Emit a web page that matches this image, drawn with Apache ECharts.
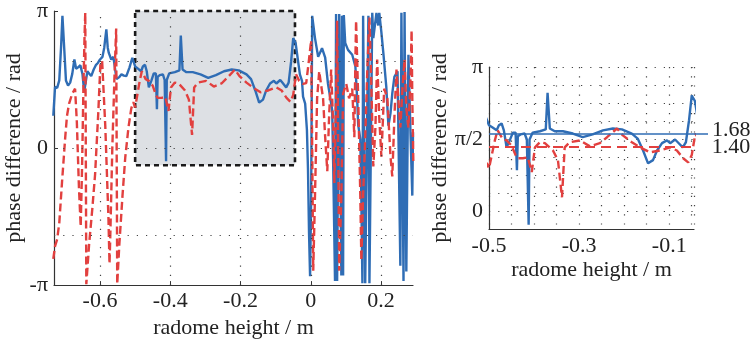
<!DOCTYPE html>
<html><head><meta charset="utf-8">
<script src="https://cdn.jsdelivr.net/npm/echarts@6/dist/echarts.min.js"></script>
<style>html,body{margin:0;padding:0;background:#fff}#c{width:754px;height:344px}</style>
</head><body><div id="c"></div>
<script>
const PI = Math.PI;
// blue (solid) phase difference trace: [radome height m, phase rad]
const blueTrace = [
[-0.733,0.74],[-0.728,1.40],[-0.722,1.38],[-0.716,1.55],[-0.711,2.30],[-0.707,3.03],[-0.702,2.30],[-0.697,1.55],[-0.691,1.43],[-0.685,1.50],
[-0.679,1.70],[-0.673,2.03],[-0.668,1.82],[-0.662,1.85],[-0.656,1.90],[-0.650,1.70],[-0.645,1.29],[-0.640,1.55],[-0.636,1.76],[-0.630,1.70],
[-0.625,1.65],[-0.618,1.80],[-0.612,1.90],[-0.606,1.95],[-0.600,2.03],[-0.593,2.09],[-0.588,2.30],[-0.582,2.72],[-0.578,2.30],[-0.575,2.18],
[-0.568,2.03],[-0.562,2.09],[-0.559,2.05],[-0.553,1.58],[-0.546,1.62],[-0.539,1.69],[-0.532,1.66],[-0.525,1.65],[-0.516,1.85],[-0.508,2.07],
[-0.500,1.87],[-0.492,1.82],[-0.483,1.76],[-0.478,1.87],[-0.472,1.91],[-0.467,1.76],[-0.461,1.39],[-0.454,1.54],[-0.447,1.71],[-0.441,1.71],
[-0.438,0.89],[-0.436,1.63],[-0.430,1.67],[-0.421,1.69],[-0.416,1.56],[-0.412,-0.30],[-0.410,1.56],[-0.403,1.71],[-0.387,1.74],[-0.374,1.78],
[-0.370,2.58],[-0.365,1.80],[-0.354,1.74],[-0.336,1.74],[-0.314,1.69],[-0.292,1.61],[-0.270,1.67],[-0.247,1.76],[-0.225,1.80],[-0.205,1.78],
[-0.183,1.69],[-0.170,1.58],[-0.158,1.32],[-0.147,1.04],[-0.136,1.11],[-0.127,1.32],[-0.116,1.48],[-0.105,1.54],[-0.098,1.48],[-0.087,1.56],
[-0.081,1.50],[-0.070,1.39],[-0.063,1.50],[-0.056,1.98],[-0.050,2.52],[-0.047,2.56],
[-0.043,2.40],[-0.036,1.98],[-0.031,1.69],[-0.025,1.54],[-0.022,1.18],[-0.016,1.02],[-0.011,0.42],[-0.008,-0.47],[-0.005,-1.94],[-0.002,-2.94],
[0.001,-1.20],[0.004,3.03],[0.012,2.52],[0.021,2.09],[0.032,2.29],[0.041,2.07],[0.049,1.47],[0.061,0.87],[0.064,-0.47],[0.069,-3.05],
[0.072,3.07],[0.075,-3.05],[0.081,3.07],[0.087,-2.92],[0.089,3.03],[0.092,-2.92],[0.094,3.05],[0.098,2.41],[0.106,2.25],[0.118,2.14],
[0.127,1.87],[0.132,1.14],[0.135,0.53],[0.141,0.20],[0.144,-1.20],[0.147,-3.10],[0.149,3.03],[0.155,-3.10],[0.164,3.03],[0.167,-3.10],
[0.175,3.10],[0.178,2.52],[0.187,3.10],[0.192,2.81],[0.195,3.10],[0.201,2.65],[0.207,2.14],[0.215,1.40],[0.221,0.51],[0.227,0.80],
[0.232,1.25],[0.238,1.63],[0.247,1.76],[0.252,1.74],[0.255,-2.70],[0.258,3.10],[0.264,-3.05],[0.267,3.12],[0.272,-2.83],[0.278,2.14],
[0.284,0.29],[0.289,-1.09],[0.291,0.36]
];
// red (dashed) phase difference trace
const redTrace = [
[-0.733,-2.54],[-0.728,-2.25],[-0.722,-2.09],[-0.716,-1.72],[-0.708,-0.76],[-0.699,0.25],[-0.694,0.74],[-0.688,1.02],[-0.679,1.25],[-0.671,1.36],
[-0.666,0.60],[-0.660,-0.90],[-0.655,-1.80],[-0.651,-0.40],[-0.647,1.50],[-0.644,2.58],[-0.642,3.10],[-0.639,-3.12],[-0.631,-2.20],[-0.622,-1.40],
[-0.614,-0.60],[-0.605,0.80],[-0.599,1.90],[-0.594,2.00],[-0.585,0.50],[-0.576,-1.60],[-0.573,-2.65],[-0.571,-2.10],[-0.565,0.00],[-0.559,1.60],
[-0.554,2.74],[-0.551,-3.12],[-0.545,-2.21],[-0.536,-1.09],[-0.528,-0.20],[-0.519,0.47],[-0.511,0.91],[-0.505,1.05],
[-0.500,0.93],[-0.487,1.54],[-0.481,1.76],[-0.470,1.58],[-0.461,1.54],[-0.450,1.43],[-0.441,1.22],[-0.436,1.15],[-0.425,1.15],[-0.414,1.17],
[-0.405,0.85],[-0.398,1.39],[-0.387,1.50],[-0.376,1.48],[-0.358,1.32],[-0.347,1.11],[-0.338,0.30],[-0.332,1.39],[-0.321,1.50],[-0.298,1.54],
[-0.276,1.41],[-0.254,1.48],[-0.238,1.61],[-0.216,1.80],[-0.203,1.65],[-0.183,1.50],[-0.165,1.39],[-0.143,1.28],[-0.121,1.32],[-0.098,1.39],
[-0.083,1.32],[-0.069,1.15],[-0.058,1.06],[-0.050,1.22],
[-0.042,1.69],[-0.033,1.54],[-0.022,1.47],[-0.013,1.49],[-0.005,2.03],[0.001,2.47],[0.004,0.02],[0.007,-2.81],[0.012,-1.09],[0.018,1.14],
[0.024,1.76],[0.029,1.47],[0.035,1.14],[0.041,0.25],[0.047,-0.53],[0.052,0.69],[0.058,1.80],[0.064,0.47],[0.067,-0.80],[0.072,1.14],
[0.075,2.92],[0.078,0.02],[0.081,-2.81],[0.087,-1.09],[0.092,1.25],[0.101,1.47],[0.109,1.14],[0.118,1.36],[0.124,0.25],[0.127,2.03],
[0.129,2.92],[0.135,1.14],[0.141,-1.09],[0.144,-2.58],[0.149,-1.09],[0.155,0.25],[0.161,1.80],[0.167,2.99],[0.172,1.58],[0.178,-0.42],
[0.184,0.47],[0.189,2.03],[0.195,0.69],[0.201,-0.20],[0.209,1.36],[0.218,1.14],[0.227,-0.20],[0.232,-0.65],[0.238,0.69],[0.244,1.80],
[0.249,1.14],[0.255,0.47],[0.261,1.36],[0.267,2.03],[0.272,0.91],[0.278,0.47],[0.284,1.58],[0.287,2.70],[0.289,1.14],[0.292,-0.36]
];
const mainXTicks = [-0.6, -0.4, -0.2, 0, 0.2];
const mainYGrid = [-2, 0, 2];
const insetXLabels = [-0.5, -0.3, -0.1];
const zoomBox = {x0: -0.5, x1: -0.045, y0: -PI / 8, y1: PI};
const meanBlue = 1.68, meanRed = 1.40;

const FONT = "'Liberation Serif', 'Times New Roman', 'DejaVu Serif', serif";
const FS = 22;
const TXT = '#222';
const BLUE = '#2f6db5', RED = '#e2403f';
const dotStyle = {color: '#444', width: 1.2, type: [1.2, 8]};
const axisLine = {onZero: false, lineStyle: {color: '#333', width: 1.2}};
const lbl = {fontFamily: FONT, fontSize: FS, color: TXT};
const near = (a, b) => Math.abs(a - b) < 1e-6;
const numFmt = v => (near(v, 0) ? '0' : String(+v.toFixed(2)));

const chart = echarts.init(document.getElementById('c'), null, {renderer: 'canvas'});
chart.setOption({
  animation: false,
  backgroundColor: '#fff',
  textStyle: {fontFamily: FONT},
  grid: [
    {left: 54, top: 10, width: 359, height: 282},
    {left: 489, top: 67, width: 205, height: 162},
    {left: 489, top: 67, width: 219, height: 162}
  ],
  xAxis: [
    {gridIndex: 0, type: 'value', min: -0.731, max: 0.291,
     name: 'radome height / m', nameLocation: 'middle', nameGap: 23, nameTextStyle: lbl,
     axisLine: Object.assign({show: true}, axisLine), splitLine: {show: false},
     axisTick: {show: true, inside: true, length: 4, customValues: mainXTicks, lineStyle: {color: '#333'}},
     axisLabel: Object.assign({customValues: mainXTicks, formatter: numFmt, margin: 5}, lbl)},
    {gridIndex: 1, type: 'value', min: zoomBox.x0, max: zoomBox.x1, interval: 0.05,
     name: 'radome height / m', nameLocation: 'middle', nameGap: 30, nameTextStyle: lbl,
     axisLine: Object.assign({show: true}, axisLine), axisTick: {show: false},
     splitLine: {show: true, lineStyle: dotStyle},
     axisLabel: Object.assign({formatter: v => insetXLabels.some(t => near(t, v)) ? numFmt(v) : '', margin: 6, showMinLabel: true, showMaxLabel: true, hideOverlap: false}, lbl)},
    {gridIndex: 2, type: 'value', min: zoomBox.x0, max: zoomBox.x0 + 219 / 450, show: false}
  ],
  yAxis: [
    {gridIndex: 0, type: 'value', min: -PI, max: PI, interval: PI,
     name: 'phase difference / rad', nameLocation: 'middle', nameGap: 23, nameTextStyle: lbl,
     axisLine: Object.assign({show: true}, axisLine), splitLine: {show: false},
     axisTick: {show: true, inside: true, length: 4, lineStyle: {color: '#333'}},
     axisLabel: Object.assign({formatter: v => v > 0.1 ? 'π' : (v < -0.1 ? '-π' : '0'), margin: 6}, lbl)},
    {gridIndex: 1, type: 'value', min: -PI / 8, max: PI, interval: PI / 8,
     name: 'phase difference / rad', nameLocation: 'middle', nameGap: 36, nameTextStyle: lbl,
     axisLine: Object.assign({show: true}, axisLine), axisTick: {show: false},
     splitLine: {show: true, lineStyle: dotStyle},
     axisLabel: Object.assign({formatter: v => near(v, PI) ? 'π' : (near(v, PI / 2) ? 'π/2' : (near(v, 0) ? '0' : '')), margin: 6, showMinLabel: true, showMaxLabel: true, hideOverlap: false}, lbl)},
    {gridIndex: 2, type: 'value', min: -PI / 8, max: PI, show: false}
  ],
  series: [
    {type: 'line', xAxisIndex: 0, yAxisIndex: 0, data: [], z: 1, silent: true,
     markArea: {silent: true, z: 1,
       itemStyle: {color: '#dde0e4', borderColor: '#1a1a1a', borderWidth: 2.6, borderType: [5, 4]},
       data: [[{coord: [zoomBox.x0, zoomBox.y1]}, {coord: [zoomBox.x1, zoomBox.y0]}]]}},
    {type: 'line', xAxisIndex: 0, yAxisIndex: 0, data: [], z: 2, silent: true,
     markLine: {silent: true, symbol: ['none', 'none'], label: {show: false}, lineStyle: dotStyle,
       data: mainXTicks.map(v => ({xAxis: v})).concat(mainYGrid.map(v => ({yAxis: v})))}},
    {type: 'line', xAxisIndex: 0, yAxisIndex: 0, data: blueTrace, z: 3, showSymbol: false, clip: true,
     lineStyle: {color: BLUE, width: 2.4}},
    {type: 'line', xAxisIndex: 0, yAxisIndex: 0, data: redTrace, z: 4, showSymbol: false, clip: true,
     lineStyle: {color: RED, width: 2.4, type: [8, 4]}},
    {type: 'line', xAxisIndex: 1, yAxisIndex: 1, data: blueTrace, z: 3, showSymbol: false, clip: true,
     lineStyle: {color: BLUE, width: 2.4}},
    {type: 'line', xAxisIndex: 1, yAxisIndex: 1, data: redTrace, z: 4, showSymbol: false, clip: true,
     lineStyle: {color: RED, width: 2.4, type: [8, 4]}},
    {type: 'line', xAxisIndex: 2, yAxisIndex: 2, data: [], z: 5, silent: true,
     markLine: {silent: true, symbol: ['none', 'none'],
       data: [
         {yAxis: meanBlue, lineStyle: {color: BLUE, width: 1.6, type: 'solid'},
          label: {show: true, position: 'end', distance: 4, offset: [0, -4], formatter: meanBlue.toFixed(2), fontFamily: FONT, fontSize: FS, color: TXT}},
         [{coord: [zoomBox.x0, meanRed], lineStyle: {color: RED, width: 1.8, type: [10, 6]},
           label: {show: true, position: 'end', distance: 18, formatter: meanRed.toFixed(2), fontFamily: FONT, fontSize: FS, color: TXT}},
          {coord: [zoomBox.x1, meanRed]}]
       ]}}
  ]
});
</script></body></html>
